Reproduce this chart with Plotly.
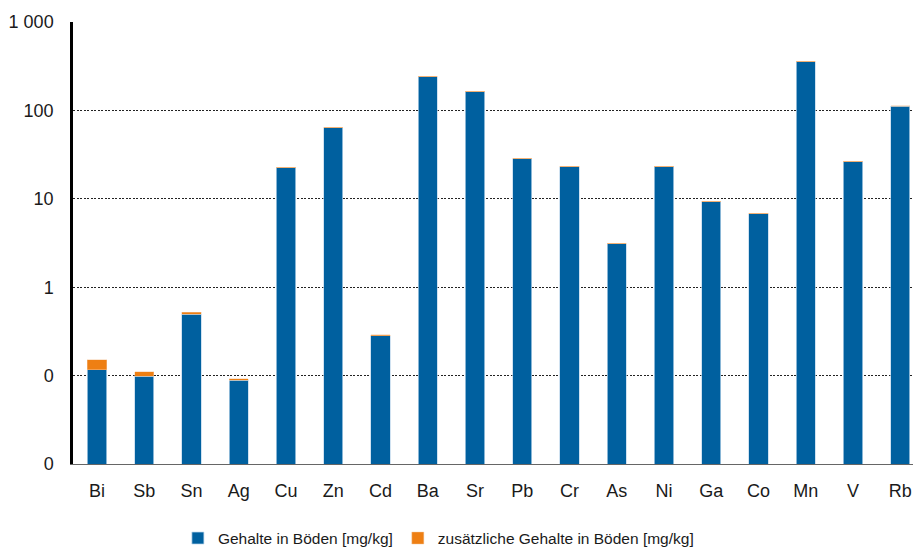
import plotly.graph_objects as go

# Elements and soil contents (mg/kg), log scale
elements = ["Bi", "Sb", "Sn", "Ag", "Cu", "Zn", "Cd", "Ba", "Sr",
            "Pb", "Cr", "As", "Ni", "Ga", "Co", "Mn", "V", "Rb"]
gehalte = [0.117, 0.0985, 0.495, 0.0887, 22.4, 63.5, 0.284, 240, 162,
           28.3, 23.0, 3.10, 23.0, 9.25, 6.77, 354, 26.2, 111.6]
zusaetzlich = [0.035, 0.012, 0.026, 0.003, 0.4, 1.0, 0.004, 3.0, 2.5,
               0.4, 0.3, 0.06, 0.3, 0.15, 0.12, 5.0, 0.5, 1.5]

tick_vals = [0.01, 0.1, 1, 10, 100, 1000]
tick_text = ["0", "0", "1", "10", "100", "1 000"]

BLUE = "#00609F"
ORANGE = "#EE7F13"
FONT = "Liberation Sans, Arial, sans-serif"

fig = go.Figure()
fig.add_trace(go.Bar(
    x=elements, y=gehalte, name="Gehalte in Böden [mg/kg]",
    marker=dict(color=BLUE, line=dict(color="rgba(190,215,235,0.9)", width=0.8)),
    width=0.41,
))
fig.add_trace(go.Bar(
    x=elements, y=zusaetzlich, name="zusätzliche Gehalte in Böden [mg/kg]",
    marker=dict(color=ORANGE, line=dict(color="rgba(245,200,160,0.9)", width=0.5)),
    width=0.41,
))

fig.update_layout(
    barmode="stack",
    width=913, height=551,
    margin=dict(l=73, r=0, t=22, b=86.5, autoexpand=False),
    paper_bgcolor="white", plot_bgcolor="white",
    font=dict(family=FONT, size=18, color="#1a1a1a"),
    showlegend=True,
    legend=dict(
        orientation="h", x=0.435, xanchor="center", y=-0.13, yanchor="top",
        font=dict(size=15.5, color="#1a1a1a"),
        itemwidth=30, traceorder="normal",
    ),
)

fig.update_xaxes(
    range=[-0.508, 17.27],
    showline=True, linecolor="#666666", linewidth=1,
    showgrid=False, ticks="", ticklabelstandoff=10,
    tickfont=dict(size=18),
)
fig.update_yaxes(
    type="log", range=[-2, 3],
    tickvals=tick_vals, ticktext=tick_text,
    showline=True, linecolor="black", linewidth=2.5,
    showgrid=True, gridcolor="#222222", gridwidth=1, griddash="2px,1.5px",
    ticks="", ticklabelstandoff=13, zeroline=False,
    tickfont=dict(size=18),
)

fig.write_html("out.html")
